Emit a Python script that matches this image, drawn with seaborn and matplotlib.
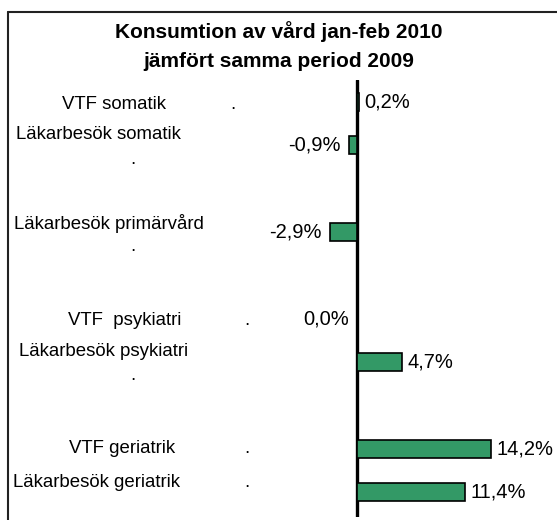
import matplotlib
matplotlib.use("Agg")
import matplotlib.pyplot as plt
from matplotlib.lines import Line2D
import seaborn as sns
import pandas as pd

# ---- data ----
categories = ["VTF somatik", "Läkarbesök somatik", "Läkarbesök primärvård",
              "VTF  psykiatri", "Läkarbesök psykiatri", "VTF geriatrik",
              "Läkarbesök geriatrik"]
values = [0.2, -0.9, -2.9, -0.04, 4.7, 14.2, 11.4]
slot_order = ["VTF somatik", "Läkarbesök somatik", " ", "Läkarbesök primärvård",
              "  ", "VTF  psykiatri", "Läkarbesök psykiatri", "   ",
              "VTF geriatrik", "Läkarbesök geriatrik"]
title_lines = ["Konsumtion av vård jan-feb 2010", "jämfört samma period 2009"]

# ---- layout / style (figure pixels) ----
W, H = 557, 520
ZERO_PX, PX_PER_UNIT = 357.3, 9.44
SLOT0_PX, SLOT_STEP = 102.0, 43.33
AX_TOP, AX_BOT = 80, 517
# (label centre x, label baseline dy, dot x, dot baseline dy) relative to slot centre
label_layout = {
    "VTF somatik": (114, 7.3, 233, 7.3),
    "Läkarbesök somatik": (98.5, -6.2, 133, 18.5),
    "Läkarbesök primärvård": (109, -3.0, 133, 18.7),
    "VTF  psykiatri": (125, 6.0, 247, 6.0),
    "Läkarbesök psykiatri": (104, -5.5, 133, 18.2),
    "VTF geriatrik": (122.5, 4.3, 247, 4.3),
    "Läkarbesök geriatrik": (96.5, -5.0, 247, -5.0),
}
GREEN = "#339966"

sns.set_theme(style="white")
plt.rcParams["font.family"] = ["Liberation Sans", "DejaVu Sans"]
plt.rcParams["text.color"] = "black"

fig = plt.figure(figsize=(W / 100, H / 100), dpi=100)
ax = fig.add_axes([8 / W, 1 - AX_BOT / H, (W - 8) / W, (AX_BOT - AX_TOP) / H])

df = pd.DataFrame({"kategori": categories, "forandring": values})
sns.barplot(data=df, y="kategori", x="forandring", order=slot_order,
            orient="h", color=GREEN, saturation=1, width=0.42,
            edgecolor="black", linewidth=1.2, ax=ax, errorbar=None, zorder=3)

ax.set_xlim(-(ZERO_PX - 8) / PX_PER_UNIT, (W - ZERO_PX) / PX_PER_UNIT)
ax.set_ylim((AX_BOT - SLOT0_PX) / SLOT_STEP, -(SLOT0_PX - AX_TOP) / SLOT_STEP)
ax.axvline(0, color="black", lw=2.4, zorder=1)
ax.set_axis_off()

# value labels
for cat, v in zip(categories, values):
    yi = slot_order.index(cat)
    txt = f"{round(v, 1) + 0.0:.1f}".replace(".", ",") + "%"
    if v >= 0:
        ax.annotate(txt, xy=(v, yi), xytext=(4, 0), textcoords="offset points",
                    ha="left", va="center", fontsize=14.5, color="black")
    else:
        ax.annotate(txt, xy=(v, yi), xytext=(-6, 0), textcoords="offset points",
                    ha="right", va="center", fontsize=14.5, color="black")

# category labels
for cat in categories:
    yi = slot_order.index(cat)
    cx, dy, dx, ddy = label_layout[cat]
    ax.annotate(cat, xy=(cx / W, yi), xycoords=("figure fraction", "data"),
                xytext=(0, -dy * 0.72), textcoords="offset points",
                ha="center", va="baseline", fontsize=13.4, color="black",
                annotation_clip=False)
    ax.annotate(".", xy=(dx / W, yi), xycoords=("figure fraction", "data"),
                xytext=(0, -ddy * 0.72), textcoords="offset points",
                ha="center", va="baseline", fontsize=13.4, color="black",
                annotation_clip=False)

# title
fig.text(0.5, 1 - 37.5 / H, title_lines[0], ha="center", va="baseline",
         fontsize=15, fontweight="bold", color="black")
fig.text(0.5, 1 - 67 / H, title_lines[1], ha="center", va="baseline",
         fontsize=15, fontweight="bold", color="black")

# outer frame (left and top edges visible)
fig.add_artist(Line2D([8 / W, 8 / W], [0, 1 - 12 / H], transform=fig.transFigure,
                      color="#222222", lw=1.5))
fig.add_artist(Line2D([8 / W, 1], [1 - 12 / H, 1 - 12 / H], transform=fig.transFigure,
                      color="#222222", lw=1.5))

fig.savefig("out.png", dpi=100)
